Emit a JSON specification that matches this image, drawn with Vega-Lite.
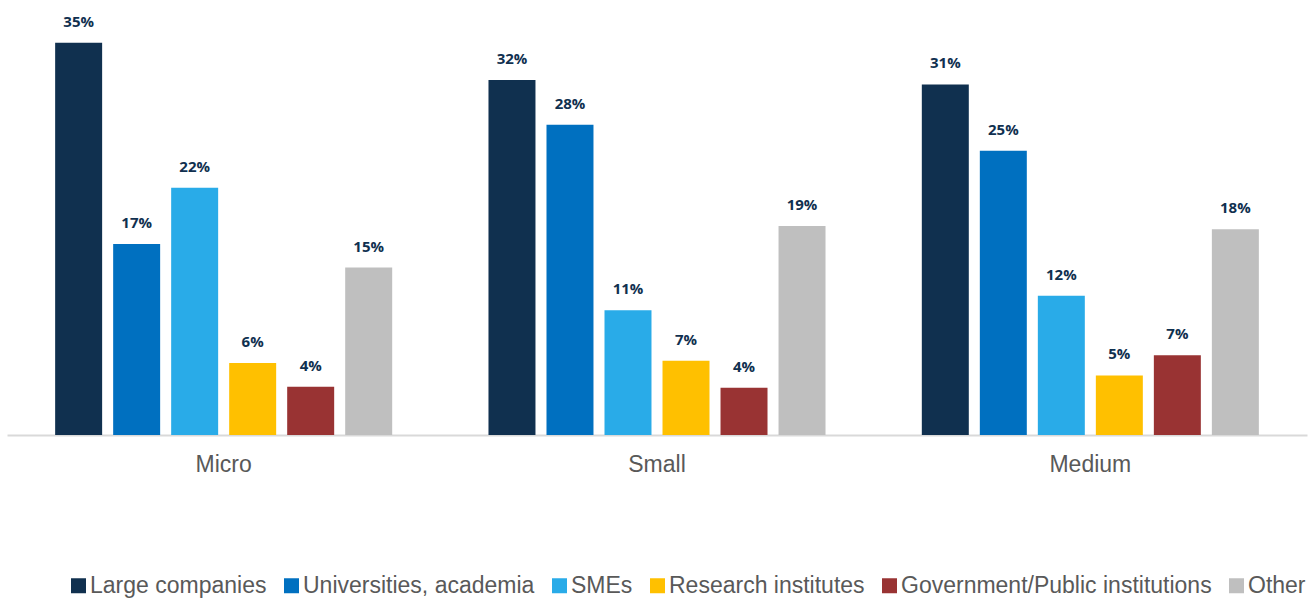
{
  "$schema": "https://vega.github.io/schema/vega-lite/v6.json",
  "width": 1300,
  "height": 427,
  "autosize": "none",
  "padding": {"left": 7, "top": 8, "right": 7, "bottom": 163},
  "background": "white",
  "config": {"view": {"stroke": null}},
  "data": {"values": [
    {"size": "Micro", "type": "Large companies", "v": 0.349},
    {"size": "Micro", "type": "Universities, academia", "v": 0.170},
    {"size": "Micro", "type": "SMEs", "v": 0.220},
    {"size": "Micro", "type": "Research institutes", "v": 0.064},
    {"size": "Micro", "type": "Government/Public institutions", "v": 0.043},
    {"size": "Micro", "type": "Other", "v": 0.149},
    {"size": "Small", "type": "Large companies", "v": 0.316},
    {"size": "Small", "type": "Universities, academia", "v": 0.276},
    {"size": "Small", "type": "SMEs", "v": 0.111},
    {"size": "Small", "type": "Research institutes", "v": 0.066},
    {"size": "Small", "type": "Government/Public institutions", "v": 0.042},
    {"size": "Small", "type": "Other", "v": 0.186},
    {"size": "Medium", "type": "Large companies", "v": 0.312},
    {"size": "Medium", "type": "Universities, academia", "v": 0.253},
    {"size": "Medium", "type": "SMEs", "v": 0.124},
    {"size": "Medium", "type": "Research institutes", "v": 0.053},
    {"size": "Medium", "type": "Government/Public institutions", "v": 0.071},
    {"size": "Medium", "type": "Other", "v": 0.183}
  ]},
  "encoding": {
    "x": {"field": "size", "type": "nominal", "sort": ["Micro", "Small", "Medium"],
      "scale": {"paddingInner": 0, "paddingOuter": 0},
      "axis": {"title": null, "labelAngle": 0, "labelFont": "Liberation Sans", "labelFontSize": 23, "labelColor": "#595959", "labelPadding": 18, "ticks": false, "domainColor": "#d9d9d9", "domainWidth": 2, "grid": false}},
    "xOffset": {"field": "type", "type": "nominal",
      "sort": ["Large companies", "Universities, academia", "SMEs", "Research institutes", "Government/Public institutions", "Other"],
      "scale": {"paddingInner": 0.19, "paddingOuter": 0.83}},
    "y": {"field": "v", "type": "quantitative", "scale": {"domain": [0, 0.38], "nice": false}, "axis": null}
  },
  "layer": [
    {"mark": {"type": "bar"},
     "encoding": {
       "color": {"field": "type", "type": "nominal",
         "sort": ["Large companies", "Universities, academia", "SMEs", "Research institutes", "Government/Public institutions", "Other"],
         "scale": {"domain": ["Large companies", "Universities, academia", "SMEs", "Research institutes", "Government/Public institutions", "Other"],
                   "range": ["#10304f", "#0070c0", "#29abe8", "#ffc000", "#993333", "#bfbfbf"]},
         "legend": {"title": null, "orient": "none", "direction": "horizontal", "legendX": 60, "legendY": 566,
           "symbolType": "square", "symbolSize": 225, "symbolStrokeWidth": 0, "symbolOffset": 0,
           "labelFont": "Liberation Sans", "labelFontSize": 23, "labelColor": "#595959", "labelOffset": 0,
           "columnPadding": 13, "labelLimit": 500}}
     }},
    {"mark": {"type": "text", "dy": -16, "baseline": "alphabetic", "font": "Open Sans", "fontWeight": "bold", "fontSize": 15, "color": "#10304f"},
     "encoding": {"text": {"field": "v", "type": "quantitative", "format": ".0%"}}}
  ]
}
